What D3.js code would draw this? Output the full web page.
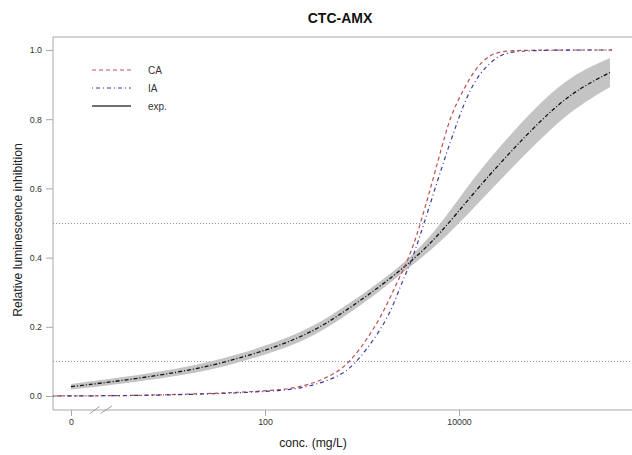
<!DOCTYPE html>
<html><head><meta charset="utf-8">
<script src="https://cdn.jsdelivr.net/npm/d3@7"></script>
<style>
html,body{margin:0;padding:0;background:#fff;}
svg{display:block;font-family:"Liberation Sans",Arial,sans-serif;}
</style></head>
<body><svg id="chart" width="632" height="455"></svg>
<script>
// ---- data ----
const title = "CTC-AMX";
const xTickValues = [1, 100, 10000];
const xTickLabels = ["0", "100", "10000"];
const yTickValues = [0, 0.2, 0.4, 0.6, 0.8, 1.0];
const refLevels = [0.5, 0.1];
const legendLabels = ["CA", "IA", "exp."];

const caConc  = [0.65, 4.06, 14.3, 43.6, 100, 181, 313, 502, 788, 1534, 2190, 2980, 3870, 6370, 8070, 11000, 14970, 20880, 26470, 39600, 378000];
const caValue = [0, 0.001, 0.005, 0.009, 0.015, 0.02, 0.036, 0.061, 0.10, 0.22, 0.316, 0.393, 0.48, 0.70, 0.807, 0.884, 0.95, 0.986, 0.995, 1.0, 1.0];

const iaConc  = [0.65, 4.06, 14.3, 43.6, 100, 194, 369, 622, 910, 1853, 2465, 3277, 4155, 6840, 9530, 13940, 24660, 39600, 378000];
const iaValue = [0, 0.001, 0.004, 0.008, 0.013, 0.018, 0.036, 0.061, 0.10, 0.22, 0.316, 0.393, 0.48, 0.673, 0.79, 0.913, 0.986, 1.0, 1.0];

const expConc  = [1, 3.78, 18.1, 46.8, 133, 336, 700, 1534, 3357, 6370, 13940, 31250, 68400, 149700, 360600];
const expValue = [0.027, 0.046, 0.075, 0.104, 0.142, 0.19, 0.249, 0.316, 0.393, 0.468, 0.585, 0.695, 0.795, 0.88, 0.935];
const expLower = [0.019, 0.037, 0.064, 0.092, 0.129, 0.176, 0.235, 0.303, 0.380, 0.443, 0.541, 0.645, 0.742, 0.830, 0.893];
const expUpper = [0.035, 0.055, 0.086, 0.116, 0.155, 0.204, 0.263, 0.329, 0.406, 0.493, 0.629, 0.745, 0.848, 0.930, 0.977];

// ---- layout ----
const box = {left: 53, top: 37, right: 640, bottom: 410};
const svg = d3.select("#chart");
const x = d3.scaleLog().domain([1, 10000]).range([71, 459]);
const y = d3.scaleLinear().domain([0, 1]).range([396, 50]);

const colCA = "#c0504d", colIA = "#3a3a9c", colExp = "#111111";
const smooth = d3.curveBasis;

svg.append("defs").append("clipPath").attr("id", "clip")
  .append("rect").attr("x", box.left).attr("y", box.top)
  .attr("width", box.right - box.left).attr("height", box.bottom - box.top);

// title
svg.append("text").attr("x", 340).attr("y", 23).attr("text-anchor", "middle")
  .attr("font-size", 14).attr("font-weight", "bold").attr("fill", "#111").text(title);

// box
svg.append("path")
  .attr("d", `M${box.right},${box.top}H${box.left}V${box.bottom}H${box.right}`)
  .attr("fill", "none").attr("stroke", "#a8a8a8").attr("stroke-width", 1);

// reference lines
svg.append("g").selectAll("line").data(refLevels).join("line")
  .attr("x1", box.left).attr("x2", 632)
  .attr("y1", d => Math.round(y(d)) + 0.5).attr("y2", d => Math.round(y(d)) + 0.5)
  .attr("stroke", "#777").attr("stroke-width", 0.8).attr("stroke-dasharray", "1,2");

// axes
const xAxis = d3.axisBottom(x).tickValues(xTickValues)
  .tickFormat((d, i) => xTickLabels[i]).tickSize(6).tickPadding(3);
const gx = svg.append("g").attr("transform", `translate(0,${box.bottom})`).call(xAxis);
gx.select(".domain").remove();
gx.selectAll("line").attr("stroke", "#a8a8a8");
gx.selectAll("text").attr("font-size", 8.8).attr("fill", "#333").attr("font-family", "Liberation Sans, Arial, sans-serif");

const yAxis = d3.axisLeft(y).tickValues(yTickValues).tickFormat(d3.format(".1f")).tickSize(7).tickPadding(4);
const gy = svg.append("g").attr("transform", `translate(${box.left},0)`).call(yAxis);
gy.select(".domain").remove();
gy.selectAll("line").attr("stroke", "#a8a8a8");
gy.selectAll("text").attr("font-size", 8.8).attr("fill", "#333").attr("font-family", "Liberation Sans, Arial, sans-serif");

// axis break marks
const brk = svg.append("g").attr("stroke", "#888").attr("stroke-width", 0.8);
brk.append("line").attr("x1", 90).attr("y1", 413.5).attr("x2", 99.5).attr("y2", 406.5);
brk.append("line").attr("x1", 100.5).attr("y1", 413.5).attr("x2", 112).attr("y2", 406);

// axis titles
svg.append("text").attr("x", 313).attr("y", 447).attr("text-anchor", "middle")
  .attr("font-size", 12.2).attr("fill", "#222").text("conc. (mg/L)");
svg.append("text").attr("transform", "translate(22,230) rotate(-90)").attr("text-anchor", "middle")
  .attr("font-size", 12.2).attr("fill", "#222").text("Relative luminescence inhibition");

// plot area
const plot = svg.append("g").attr("clip-path", "url(#clip)");

const band = d3.area().curve(smooth)
  .x(i => x(expConc[i])).y0(i => y(expLower[i])).y1(i => y(expUpper[i]));
plot.append("path").datum(d3.range(expConc.length)).attr("d", band).attr("fill", "#c4c4c4");

function lineOf(conc, vals) {
  return d3.line().curve(smooth).x(i => x(conc[i])).y(i => y(vals[i]))(d3.range(conc.length));
}
plot.append("path").attr("d", lineOf(expConc, expValue)).attr("fill", "none")
  .attr("stroke", colExp).attr("stroke-width", 1.3).attr("stroke-dasharray", "4,2,1,2");
plot.append("path").attr("d", lineOf(caConc, caValue)).attr("fill", "none")
  .attr("stroke", colCA).attr("stroke-width", 1.2).attr("stroke-dasharray", "4,3");
plot.append("path").attr("d", lineOf(iaConc, iaValue)).attr("fill", "none")
  .attr("stroke", colIA).attr("stroke-width", 1.2).attr("stroke-dasharray", "1,3,4,3");

// legend
const legStyles = [
  {stroke: colCA, dash: "4,3", w: 1},
  {stroke: colIA, dash: "1,3,4,3", w: 1},
  {stroke: "#707070", dash: null, w: 1.8}
];
const leg = svg.append("g");
legendLabels.forEach((lab, i) => {
  const yy = 70 + i * 18;
  leg.append("line").attr("x1", 92).attr("x2", 131).attr("y1", yy).attr("y2", yy)
    .attr("stroke", legStyles[i].stroke).attr("stroke-width", legStyles[i].w)
    .attr("stroke-dasharray", legStyles[i].dash);
  leg.append("text").attr("x", 148).attr("y", yy + 3.5).attr("font-size", 10)
    .attr("fill", "#333").text(lab);
});
</script>
</body></html>
